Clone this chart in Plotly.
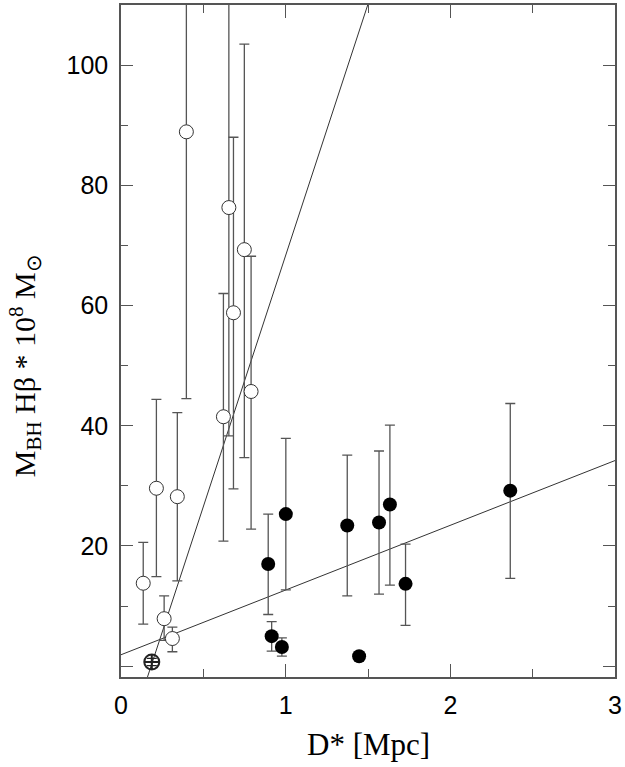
import plotly.graph_objects as go

# open circles (near group)
open_x = [0.135, 0.215, 0.342, 0.262, 0.312, 0.397, 0.655, 0.683, 0.749, 0.622, 0.790]
open_y = [13.8, 29.6, 28.2, 7.9, 4.6, 88.9, 76.3, 58.8, 69.3, 41.5, 45.7]
open_hi = [20.6, 44.4, 42.2, 11.7, 6.5, 200.0, 200.0, 88.0, 103.5, 62.0, 68.2]
open_lo = [7.0, 14.9, 14.2, 4.3, 2.4, 44.5, 38.3, 29.5, 34.7, 20.8, 22.8]

# crossed circle
cross_x = [0.187]
cross_y = [0.7]
cross_err = [0.6]

# filled circles (far group)
fill_x = [0.894, 1.001, 0.915, 0.977, 1.374, 1.567, 1.633, 1.728, 1.446, 2.364]
fill_y = [17.0, 25.3, 5.0, 3.2, 23.4, 23.9, 26.9, 13.7, 1.66, 29.2]
fill_hi = [25.3, 37.9, 7.4, 4.7, 35.1, 35.8, 40.1, 20.3, 1.66, 43.7]
fill_lo = [8.6, 12.7, 2.5, 1.66, 11.7, 12.0, 13.5, 6.8, 1.66, 14.6]

# linear fits: intercept, slope
fit_far = [1.9, 10.77]
fit_near = [-15.25, 83.6]

xr = [0, 3]
yr = [-1.8, 110]

err_col = "#555555"
fig = go.Figure()


def errs(y, hi, lo):
    return [h - v for h, v in zip(hi, y)], [v - l for v, l in zip(y, lo)]


# fit lines
fx = [0, 3]
fig.add_trace(go.Scatter(x=fx, y=[fit_far[0] + fit_far[1] * v for v in fx], mode="lines",
                         line=dict(color="#333333", width=1)))
nx = [0.1, 1.6]
fig.add_trace(go.Scatter(x=nx, y=[fit_near[0] + fit_near[1] * v for v in nx], mode="lines",
                         line=dict(color="#333333", width=1)))

up, dn = errs(open_y, open_hi, open_lo)
fig.add_trace(go.Scatter(
    x=open_x, y=open_y, mode="markers",
    marker=dict(symbol="circle", size=14, color="white", line=dict(color="#333333", width=1)),
    error_y=dict(type="data", symmetric=False, array=up, arrayminus=dn,
                 color=err_col, thickness=1.3, width=5),
))

fig.add_trace(go.Scatter(
    x=cross_x, y=cross_y, mode="markers",
    marker=dict(symbol="circle-cross-open", size=15, color="#222222", line=dict(width=2)),
    error_y=dict(type="data", array=cross_err, color="#222222", thickness=1.3, width=5),
))

up, dn = errs(fill_y, fill_hi, fill_lo)
fig.add_trace(go.Scatter(
    x=fill_x, y=fill_y, mode="markers",
    marker=dict(symbol="circle", size=14, color="black", line=dict(color="black", width=0)),
    error_y=dict(type="data", symmetric=False, array=up, arrayminus=dn,
                 color=err_col, thickness=1.3, width=5),
))

axis_common = dict(showgrid=False, zeroline=False, showline=True, linecolor="#555555", linewidth=1.5,
                   mirror="ticks", ticks="inside", tickcolor="#555555", tickwidth=1.3,
                   tickfont=dict(family="Liberation Sans, Arial", size=25, color="black"))

fig.update_xaxes(range=xr, tickvals=[0, 1, 2, 3], ticklen=13, ticklabelstandoff=5,
                 minor=dict(dtick=0.5, tick0=0, ticks="inside", ticklen=8, tickcolor="#555555"),
                 **axis_common)
fig.update_yaxes(range=yr, tickvals=[0, 20, 40, 60, 80, 100],
                 ticktext=["", "20", "40", "60", "80", "100"], ticklen=12, ticklabelstandoff=6,
                 minor=dict(dtick=10, tick0=0, ticks="inside", ticklen=7, tickcolor="#555555"),
                 **axis_common)

fig.add_annotation(text="M<sub>BH</sub> Hβ * 10<sup>8</sup> M<sub>⊙</sub>", textangle=-90,
                   xref="paper", yref="paper", x=-0.1935, y=0.463, xanchor="center", yanchor="middle",
                   showarrow=False,
                   font=dict(family="Liberation Serif, Times New Roman", size=30, color="black"))
fig.add_annotation(text="D* [Mpc]", xref="paper", yref="paper", x=0.5, y=-0.101,
                   xanchor="center", yanchor="middle", showarrow=False,
                   font=dict(family="Liberation Serif, Times New Roman", size=31, color="black"))

fig.update_layout(width=625, height=767, showlegend=False,
                  paper_bgcolor="white", plot_bgcolor="white",
                  margin=dict(l=121, r=8, t=3, b=90))

fig.write_html("out.html", config={"displayModeBar": False},
               post_script="document.body.style.margin='0';")
